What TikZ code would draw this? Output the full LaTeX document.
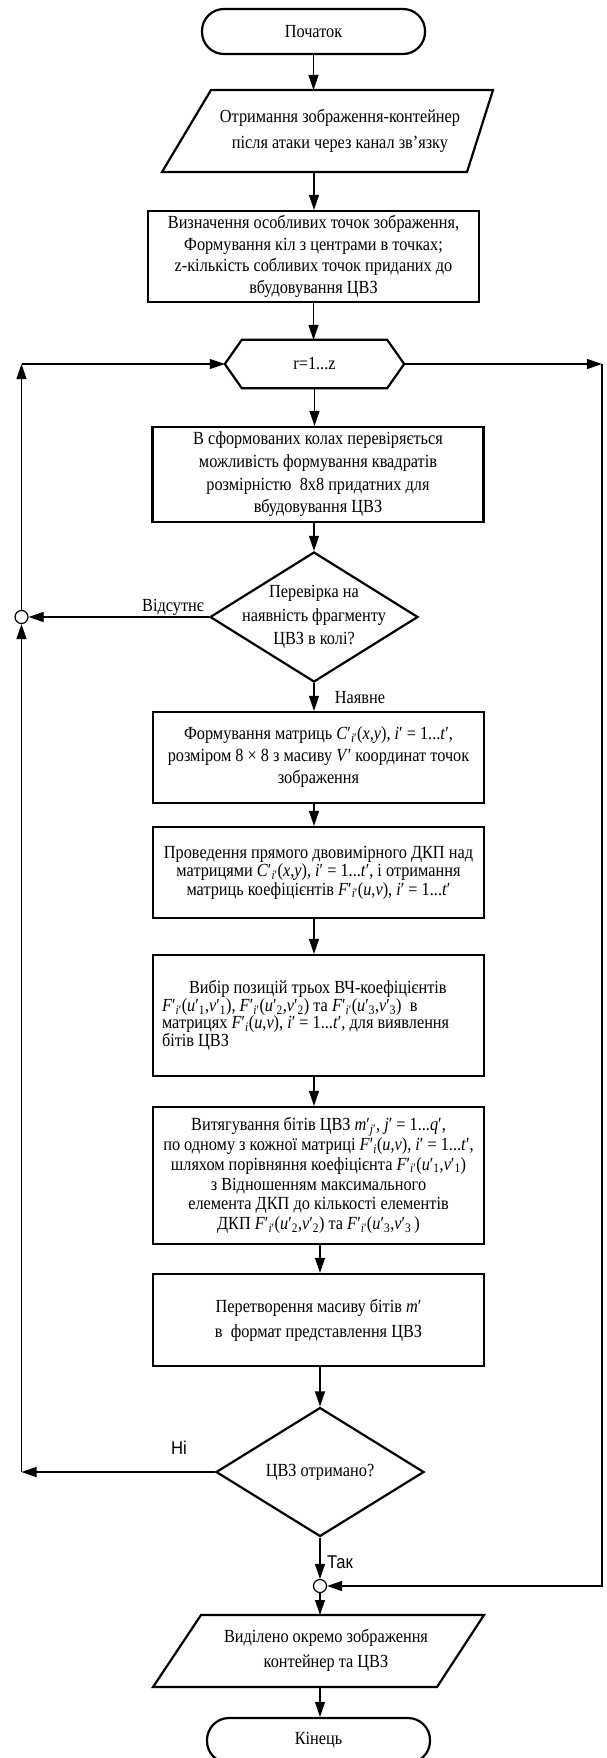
\documentclass[tikz,border=0pt]{standalone}
\usepackage{fontspec}
\setmainfont{Liberation Serif}[FakeStretch=0.88]
\newfontfamily\lsans{Liberation Sans}[FakeStretch=0.9]
\usetikzlibrary{arrows.meta,shapes.geometric,calc}
\newcommand{\myi}{\textit{i}′}
\newcommand{\myt}{\textit{t}′}
\newcommand{\Cii}{\textit{C}′\textsubscript{\textit{i}′}}
\newcommand{\Fii}{\textit{F}′\textsubscript{\textit{i}′}}
\newcommand{\Fi}{\textit{F}′\textsubscript{\textit{i}}}
\newcommand{\myu}[1]{\textit{u}′\textsubscript{#1}}
\newcommand{\myv}[1]{\textit{v}′\textsubscript{#1}}
\newcommand{\fs}[1]{\fontsize{18.5}{#1}\selectfont\lineskiplimit=-20pt\relax}
\begin{document}
\begin{tikzpicture}[x=1pt,y=-1pt,
  every node/.style={inner sep=0pt},
  blk/.style={draw, line width=2.2pt, minimum width=331pt, minimum height=#1, align=center},
  term/.style={draw, line width=2.2pt, rounded corners=22pt, minimum width=223pt, minimum height=45pt},
  dia/.style={diamond, draw, line width=2.2pt, minimum width=208pt, minimum height=130pt},
  shp/.style={line width=2.2pt, line join=miter},
  arr/.style={line width=1.2pt, -{Triangle[length=15pt,width=10pt]}},
  jn/.style={circle, draw, line width=1.2pt, minimum size=13pt}
]
\useasboundingbox (0,0) rectangle (606,1758);

% start
\node[term, font=\fs{20}] (start) at (313.5,31.5) {Початок};

% input parallelogram
\coordinate (p1n) at (314,90);
\coordinate (p1s) at (314,172);
\draw[shp] (211,90) -- (493,90) -- (467,172) -- (162,172) -- cycle;
\node[font=\fs{26}, align=center] (p1) at (340,131) {Отримання зображення-контейнер\\після атаки через канал зв’язку};

% box1
\node[blk=91pt, font=\fs{21.5}] (box1) at (313.5,256.5) {Визначення особливих точок зображення,\\Формування кіл з центрами в точках;\\z-кількість собливих точок приданих до\\вбудовування ЦВЗ};

% hexagon
\node[font=\fs{20}, minimum width=179pt, minimum height=48pt] (hex) at (314.5,364) {r=1...z};
\draw[shp] (hex.west) -- ($(hex.north west)+(17,0)$) -- ($(hex.north east)+(-17,0)$) -- (hex.east) -- ($(hex.south east)+(-17,0)$) -- ($(hex.south west)+(17,0)$) -- cycle;

% box2
\node[blk=95pt, font=\fs{22.7}] (box2) at (318,474.5) {В сформованих колах перевіряється\\можливість формування квадратів\\розмірністю~~8x8 придатних для\\вбудовування ЦВЗ};

% diamond 1
\node[dia] (d1) at (314,617) {};
\node[font=\fs{23.5}, align=center] (d1t) at (d1) {Перевірка на\\наявність фрагменту\\ЦВЗ в колі?};

% box3
\node[blk=91pt, font=\fs{22}] (box3) at (318.5,757.5) {Формування матриць \Cii(\textit{x},\textit{y}), \myi{} = 1...\myt,\\розміром 8 × 8 з масиву \textit{V}′ координат точок\\зображення};

% box4
\node[blk=91pt, font=\fs{18.5}] (box4) at (318.5,872.5) {Проведення прямого двовимірного ДКП над\\матрицями \Cii(\textit{x},\textit{y}), \myi{} = 1...\myt, і отримання\\матриць коефіцієнтів \Fii(\textit{u},\textit{v}), \myi{} = 1...\myt};

% box5
\node[blk=121pt] (box5) at (318.5,1015.5) {};
\node[font=\fs{17.5}, text width=313pt, align=flush left] (box5t) at (box5) {\hspace*{27pt}Вибір позицій трьох ВЧ-коефіцієнтів\\\Fii(\myu{1},\myv{1}), \Fii(\myu{2},\myv{2}) та \Fii(\myu{3},\myv{3})~~в\\матрицях \Fi(\textit{u},\textit{v}), \myi{} = 1...\myt, для виявлення\\бітів ЦВЗ};

% box6
\node[blk=137pt, font=\fs{19.8}] (box6) at (318.5,1175.5) {Витягування бітів ЦВЗ \textit{m}′\textsubscript{\textit{j}′}, \textit{j}′ = 1...\textit{q}′,\\по одному з кожної матриці \Fi(\textit{u},\textit{v}), \myi{} = 1...\myt,\\шляхом порівняння коефіцієнта \Fii(\myu{1},\myv{1})\\з Відношенням максимального\\елемента ДКП до кількості елементів\\ДКП \Fii(\myu{2},\myv{2}) та \Fii(\myu{3},\myv{3}\,)};

% box7
\node[blk=92pt, font=\fs{25}] (box7) at (318.5,1320) {Перетворення масиву бітів \textit{m}′\\в~~формат представлення ЦВЗ};

% diamond 2
\node[dia, minimum height=129pt] (d2) at (320,1472) {};
\node[font=\fs{20}] (d2t) at (d2) {ЦВЗ отримано?};

% junctions
\node[jn] (c1) at (21.5,617) {};
\node[jn] (c2) at (320,1586) {};

% output parallelogram
\coordinate (p2n) at (320,1615);
\coordinate (p2s) at (320,1687);
\draw[shp] (201,1615) -- (484,1615) -- (437,1687) -- (153,1687) -- cycle;
\node[font=\fs{25}, align=center] (p2) at (326,1650) {Виділено окремо зображення\\контейнер та ЦВЗ};

% end
\node[term, font=\fs{20}] (end) at (318.5,1740.5) {Кінець};

% main connectors
\draw[arr] (start.south) -- (start.south |- p1n);
\draw[arr] (p1s) -- (p1s |- box1.north);
\draw[arr] (box1.south) -- (box1.south |- hex.north);
\draw[arr] (hex.south) -- (hex.south |- box2.north);
\draw[arr] (d1.north |- box2.south) -- (d1.north);
\draw[arr] (d1.south) -- (d1.south |- box3.north);
\draw[arr] (d1.south |- box3.south) -- (d1.south |- box4.north);
\draw[arr] (d1.south |- box4.south) -- (d1.south |- box5.north);
\draw[arr] (d1.south |- box5.south) -- (d1.south |- box6.north);
\draw[arr] (d2.north |- box6.south) -- (d2.north |- box7.north);
\draw[arr] (d2.north |- box7.south) -- (d2.north);
\draw[arr] (d2.south) -- (c2.north);
\draw[arr] (c2.south) -- (p2n);
\draw[arr] (p2s) -- (p2s |- end.north);

% left loop
\draw[arr] (d1.west) -- (c1.east);
\draw[arr] (d2.west) -- (d2.west -| c1);
\draw[arr] (d2.west -| c1) -- (c1.south);
\draw[arr] (c1.north) -- (c1 |- hex.west);
\draw[arr] (c1 |- hex.west) -- (hex.west);

% right loop
\coordinate (r1) at (602,364);
\draw[arr] (hex.east) -- (r1);
\draw[arr] (r1) -- (r1 |- c2) -- (c2.east);

% labels
\node[font=\fs{20}] (lbA) at (173,607) {Відсутнє};
\node[font=\fs{20}] (lbB) at (360,698) {Наявне};
\node[font=\lsans\fs{20}] (lbC) at (179,1448) {Ні};
\node[font=\lsans\fs{20}] (lbD) at (340,1562) {Так};
\end{tikzpicture}
\end{document}
